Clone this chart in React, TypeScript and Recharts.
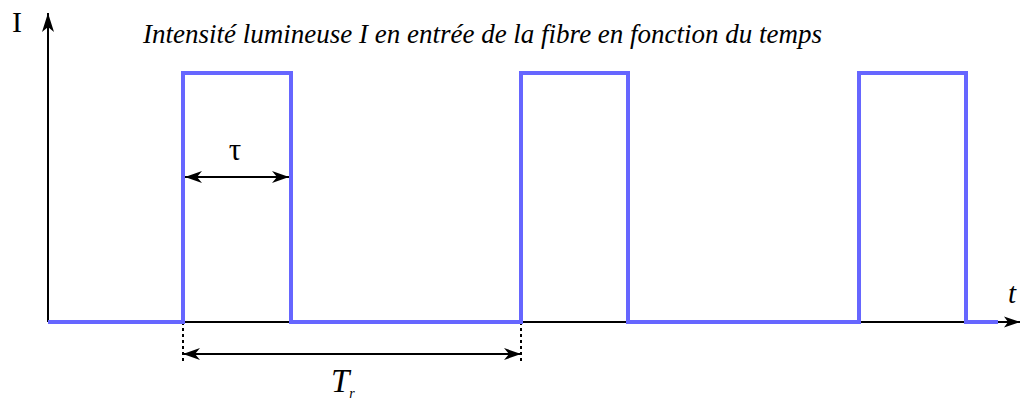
import React from "react";
import {
  LineChart,
  Line,
  XAxis,
  YAxis,
  ReferenceLine,
  ReferenceDot,
} from "recharts";

// ---- Data (time in arbitrary units, intensity normalised) ----
const times = [0, 1.35, 2.43, 4.73, 5.8, 8.11, 9.18, 9.5];
const intensity = [0, 1, 0, 1, 0, 1, 0, 0];

const titleText = "Intensité lumineuse I en entrée de la fibre en fonction du temps";
const yLabelText = "I";
const xLabelText = "t";
const tauText = "τ";
const periodMain = "T";
const periodSub = "r";

const data = times.map((t, i) => ({ t, I: intensity[i] }));

// ---- Layout (in data units) ----
const X_DOMAIN: [number, number] = [-0.48, 9.72];
const Y_DOMAIN: [number, number] = [-0.31727, 1.29317];
const X_AXIS_END = 9.72;
const Y_AXIS_END = 1.241;
const TAU_Y = 0.5823;
const TAU_X1 = 1.37;
const TAU_X2 = 2.41;
const PERIOD_Y = -0.1285;
const DASH_BOTTOM = -0.1647;
const PERIOD_START = times[1];
const PERIOD_END = times[3];

const serif = "'Liberation Serif', 'Times New Roman', serif";

const TextShape = (
  text: string,
  opts: { size: number; italic?: boolean; anchor?: "start" | "middle" | "end" }
) =>
  (props: any) => (
    <text
      x={props.cx}
      y={props.cy}
      fontFamily={serif}
      fontSize={opts.size}
      fontStyle={opts.italic ? "italic" : "normal"}
      textAnchor={opts.anchor || "start"}
      fill="#000"
    >
      {text}
    </text>
  );

const PeriodShape = (props: any) => (
  <text x={props.cx} y={props.cy} fontFamily={serif} fill="#000" fontStyle="italic">
    <tspan fontSize={33}>{periodMain}</tspan>
    <tspan fontSize={14} dy={6}>
      {periodSub}
    </tspan>
  </text>
);

export default function App() {
  return (
    <div style={{ position: "absolute", left: 0, top: 0, background: "#fff" }}>
      <LineChart
        width={1020}
        height={401}
        data={data}
        margin={{ top: 0, right: 0, bottom: 0, left: 0 }}
      >
        <defs>
          <marker
            id="arrowBig"
            viewBox="0 -7 20 14"
            markerWidth={20}
            markerHeight={14}
            refX={19}
            refY={0}
            markerUnits="userSpaceOnUse"
            orient="auto"
          >
            <path d="M0,-6 L19,0 L0,6 L5,0 Z" fill="#000" />
          </marker>
          <marker
            id="arrowX"
            viewBox="0 -7 17 14"
            markerWidth={17}
            markerHeight={14}
            refX={16}
            refY={0}
            markerUnits="userSpaceOnUse"
            orient="auto"
          >
            <path d="M0,-5.5 L16,0 L0,5.5 L4,0 Z" fill="#000" />
          </marker>
          <marker
            id="arrowSmall"
            viewBox="0 -7 18 14"
            markerWidth={18}
            markerHeight={14}
            refX={17}
            refY={0}
            markerUnits="userSpaceOnUse"
            orient="auto-start-reverse"
          >
            <path d="M0,-6 L17,0 L0,6 L5,0 Z" fill="#000" />
          </marker>
        </defs>
        <XAxis
          dataKey="t"
          type="number"
          domain={X_DOMAIN}
          allowDataOverflow
          hide
        />
        <YAxis type="number" domain={Y_DOMAIN} allowDataOverflow hide />

        {/* axes with arrows */}
        <ReferenceLine
          segment={[
            { x: 0, y: 0 },
            { x: X_AXIS_END, y: 0 },
          ]}
          stroke="#000"
          strokeWidth={2}
          markerEnd="url(#arrowX)"
        />
        <ReferenceLine
          segment={[
            { x: 0, y: 0 },
            { x: 0, y: Y_AXIS_END },
          ]}
          stroke="#000"
          strokeWidth={2}
          markerEnd="url(#arrowBig)"
        />

        {/* period dashed guides */}
        <ReferenceLine
          segment={[
            { x: PERIOD_START, y: 0 },
            { x: PERIOD_START, y: DASH_BOTTOM },
          ]}
          stroke="#000"
          strokeWidth={2}
          strokeDasharray="3 3"
        />
        <ReferenceLine
          segment={[
            { x: PERIOD_END, y: 0 },
            { x: PERIOD_END, y: DASH_BOTTOM },
          ]}
          stroke="#000"
          strokeWidth={2}
          strokeDasharray="3 3"
        />
        <ReferenceLine
          segment={[
            { x: PERIOD_START, y: PERIOD_Y },
            { x: PERIOD_END, y: PERIOD_Y },
          ]}
          stroke="#000"
          strokeWidth={2}
          markerStart="url(#arrowSmall)"
          markerEnd="url(#arrowSmall)"
        />

        <Line
          type="stepAfter"
          dataKey="I"
          stroke="#6666ff"
          strokeWidth={4}
          dot={false}
          activeDot={false}
          isAnimationActive={false}
        />

        {/* tau arrow */}
        <ReferenceLine
          segment={[
            { x: TAU_X1, y: TAU_Y },
            { x: TAU_X2, y: TAU_Y },
          ]}
          stroke="#000"
          strokeWidth={2}
          markerStart="url(#arrowSmall)"
          markerEnd="url(#arrowSmall)"
        />

        {/* texts */}
        <ReferenceDot x={0.95} y={1.1205} r={0} shape={TextShape(titleText, { size: 27, italic: true })} />
        <ReferenceDot x={-0.36} y={1.1647} r={0} shape={TextShape(yLabelText, { size: 30 })} />
        <ReferenceDot x={9.6} y={0.0763} r={0} shape={TextShape(xLabelText, { size: 29, italic: true })} />
        <ReferenceDot x={1.87} y={0.6506} r={0} shape={TextShape(tauText, { size: 31, anchor: "middle" })} />
        <ReferenceDot x={2.83} y={-0.2811} r={0} shape={PeriodShape} />
      </LineChart>
    </div>
  );
}
